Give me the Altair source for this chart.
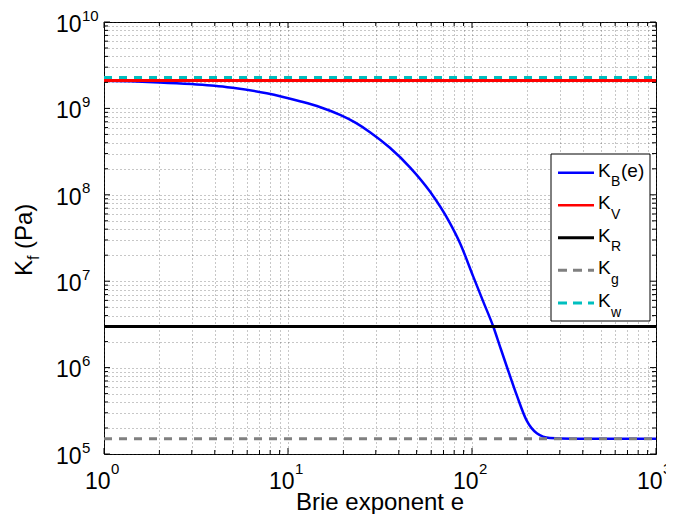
import altair as alt
import pandas as pd

# ---- data ----
e_vals = [1, 1.5, 2.0, 3.0, 4.0, 5.0, 7.66, 11.6, 15.0, 19.2, 23.5, 27.9, 35.8,
          46.0, 59.1, 75.9, 86.1, 101.6, 115.1, 130.6, 142, 154.5, 175, 198,
          225, 265, 350, 600, 1000]
kb_vals = [2.09e9, 2.05e9, 2.0e9, 1.91e9, 1.83e9, 1.73e9, 1.50e9, 1.21e9,
           1.03e9, 8.4e8, 6.75e8, 5.3e8, 3.5e8, 2.08e8, 1.09e8, 4.7e7, 2.75e7,
           1.13e7, 5.8e6, 2.97e6, 1.75e6, 1.03e6, 4.8e5, 2.45e5, 1.74e5,
           1.53e5, 1.5e5, 1.5e5, 1.5e5]
e_ends = [1, 1000]
k_v = 2.1e9
k_r = 3.0e6
k_g = 1.5e5
k_w = 2.28e9

x_major = [1, 10, 100, 1000]
x_minor = [m * 10 ** p for p in range(0, 3) for m in range(2, 10)]
y_major = [1e5, 1e6, 1e7, 1e8, 1e9, 1e10]
y_minor = [m * 10.0 ** p for p in range(5, 10) for m in range(2, 10)]
x_exps = ["0", "1", "2", "3"]
y_exps = ["5", "6", "7", "8", "9", "10"]

legend_main = ["K", "K", "K", "K", "K"]
legend_sub = ["B", "V", "R", "g", "w"]
legend_tail = ["(e)", "", "", "", ""]

# ---- styling ----
W, H = 552, 432
FONT = "Liberation Sans"
BLUE, RED, BLACK, GRAY, CYAN = "#0000FF", "#FF0000", "#000000", "#808080", "#00BFBF"

xs = alt.Scale(type="log", domain=[1, 1000], nice=False)
ys = alt.Scale(type="log", domain=[1e5, 1e10], nice=False)

grid_x = alt.Axis(values=x_major + x_minor, grid=True, labels=False, ticks=False,
                  domain=False, title=None, gridDash=[1, 3], gridColor="#444444",
                  gridOpacity=0.6, gridWidth=1)
grid_y = alt.Axis(values=y_major + y_minor, grid=True, labels=False, ticks=False,
                  domain=False, title=None, gridDash=[1, 3], gridColor="#444444",
                  gridOpacity=0.6, gridWidth=1)


def X(field):
    return alt.X(field, scale=xs, axis=grid_x)


def Y(field):
    return alt.Y(field, scale=ys, axis=grid_y)


layers = []

# blue Brie curve
kb_df = pd.DataFrame({"e": e_vals, "k": kb_vals})
layers.append(
    alt.Chart(kb_df).mark_line(color=BLUE, strokeWidth=2.5, interpolate="monotone",
                               clip=True)
    .encode(x=X("e:Q"), y=Y("k:Q"))
)


def hline(val, color, width, dash=None):
    df = pd.DataFrame({"e": e_ends, "k": [val, val]})
    kw = dict(color=color, strokeWidth=width, clip=True)
    if dash:
        kw["strokeDash"] = dash
    return alt.Chart(df).mark_line(**kw).encode(x=X("e:Q"), y=Y("k:Q"))


layers.append(hline(k_v, RED, 3))
layers.append(hline(k_r, BLACK, 3))
layers.append(hline(k_g, GRAY, 3, [8, 7]))
layers.append(hline(k_w, CYAN, 3, [8, 7]))


# ---- inward ticks on all four sides ----
def xticks(vals, L):
    base = alt.Chart(pd.DataFrame({"e": vals}))
    return [
        base.mark_rule(color="black", strokeWidth=1).encode(
            x=X("e:Q"), y=alt.value(H), y2=alt.value(H - L)),
        base.mark_rule(color="black", strokeWidth=1).encode(
            x=X("e:Q"), y=alt.value(0), y2=alt.value(L)),
    ]


def yticks(vals, L):
    base = alt.Chart(pd.DataFrame({"k": vals}))
    return [
        base.mark_rule(color="black", strokeWidth=1).encode(
            y=Y("k:Q"), x=alt.value(0), x2=alt.value(L)),
        base.mark_rule(color="black", strokeWidth=1).encode(
            y=Y("k:Q"), x=alt.value(W), x2=alt.value(W - L)),
    ]


layers += xticks(x_major, 6) + xticks(x_minor, 4)
layers += yticks(y_major, 6) + yticks(y_minor, 4)

# ---- tick labels 10^n ----
xl = pd.DataFrame({"e": x_major, "b": ["10"] * len(x_major), "p": x_exps})
layers.append(alt.Chart(xl).mark_text(align="right", baseline="alphabetic", font=FONT,
                                      fontSize=23, dx=6.5, color="black")
              .encode(x=X("e:Q"), y=alt.value(467), text="b:N"))
layers.append(alt.Chart(xl).mark_text(align="left", baseline="alphabetic", font=FONT,
                                      fontSize=15, dx=7, color="black")
              .encode(x=X("e:Q"), y=alt.value(452), text="p:N"))

yl = pd.DataFrame({"k": y_major, "b": ["10"] * len(y_major), "p": y_exps})
layers.append(alt.Chart(yl).mark_text(align="right", baseline="alphabetic", font=FONT,
                                      fontSize=23, dy=9.8, color="black")
              .encode(y=Y("k:Q"), x=alt.value(-22.5), text="b:N"))
layers.append(alt.Chart(yl).mark_text(align="left", baseline="alphabetic", font=FONT,
                                      fontSize=15, dy=-1.5, color="black")
              .encode(y=Y("k:Q"), x=alt.value(-22), text="p:N"))

# ---- axis titles ----
one = pd.DataFrame({"a": [0]})
layers.append(alt.Chart(one).mark_text(align="center", baseline="alphabetic", font=FONT,
                                       fontSize=24, color="black")
              .encode(x=alt.value(W / 2), y=alt.value(488),
                      text=alt.value("Brie exponent e")))
layers.append(alt.Chart(one).mark_text(align="left", baseline="alphabetic", font=FONT,
                                       fontSize=24, angle=270, color="black")
              .encode(x=alt.value(-72), y=alt.value(254), text=alt.value("K")))
layers.append(alt.Chart(one).mark_text(align="left", baseline="alphabetic", font=FONT,
                                       fontSize=16, angle=270, color="black")
              .encode(x=alt.value(-65), y=alt.value(238), text=alt.value("f")))
layers.append(alt.Chart(one).mark_text(align="left", baseline="alphabetic", font=FONT,
                                       fontSize=24, angle=270, color="black")
              .encode(x=alt.value(-72), y=alt.value(227), text=alt.value("(Pa)")))

# ---- legend ----
LX0, LX1, LY0, LY1 = 447, 546, 132, 299
layers.append(alt.Chart(one).mark_rect(fill="white", stroke="black", strokeWidth=1)
              .encode(x=alt.value(LX0), x2=alt.value(LX1), y=alt.value(LY0),
                      y2=alt.value(LY1)))
rows = [150.7, 183.3, 215.7, 248.3, 281.0]
styles = [(BLUE, 2.5, None), (RED, 2.5, None), (BLACK, 3, None),
          (GRAY, 3, [9, 6]), (CYAN, 3, [9, 6])]
for i, ry in enumerate(rows):
    col, sw, dash = styles[i]
    kw = dict(color=col, strokeWidth=sw)
    if dash:
        kw["strokeDash"] = dash
    layers.append(alt.Chart(one).mark_rule(**kw).encode(
        x=alt.value(454), x2=alt.value(490), y=alt.value(ry)))
    layers.append(alt.Chart(one).mark_text(align="left", baseline="alphabetic",
                                           font=FONT, fontSize=19, color="black")
                  .encode(x=alt.value(494), y=alt.value(ry + 4),
                          text=alt.value(legend_main[i])))
    layers.append(alt.Chart(one).mark_text(align="left", baseline="alphabetic",
                                           font=FONT, fontSize=14, color="black")
                  .encode(x=alt.value(507), y=alt.value(ry + 13.5),
                          text=alt.value(legend_sub[i])))
    if legend_tail[i]:
        layers.append(alt.Chart(one).mark_text(align="left", baseline="alphabetic",
                                               font=FONT, fontSize=19, color="black")
                      .encode(x=alt.value(517), y=alt.value(ry + 4),
                              text=alt.value(legend_tail[i])))

chart = (
    alt.layer(*layers)
    .properties(width=W, height=H,
                autosize=alt.AutoSizeParams(type="none"),
                padding={"left": 96, "top": 14, "right": 10, "bottom": 60})
    .configure(background="white")
    .configure_view(stroke="black", strokeWidth=1)
)

chart.save("out.html", embed_options={"renderer": "svg", "actions": False})
